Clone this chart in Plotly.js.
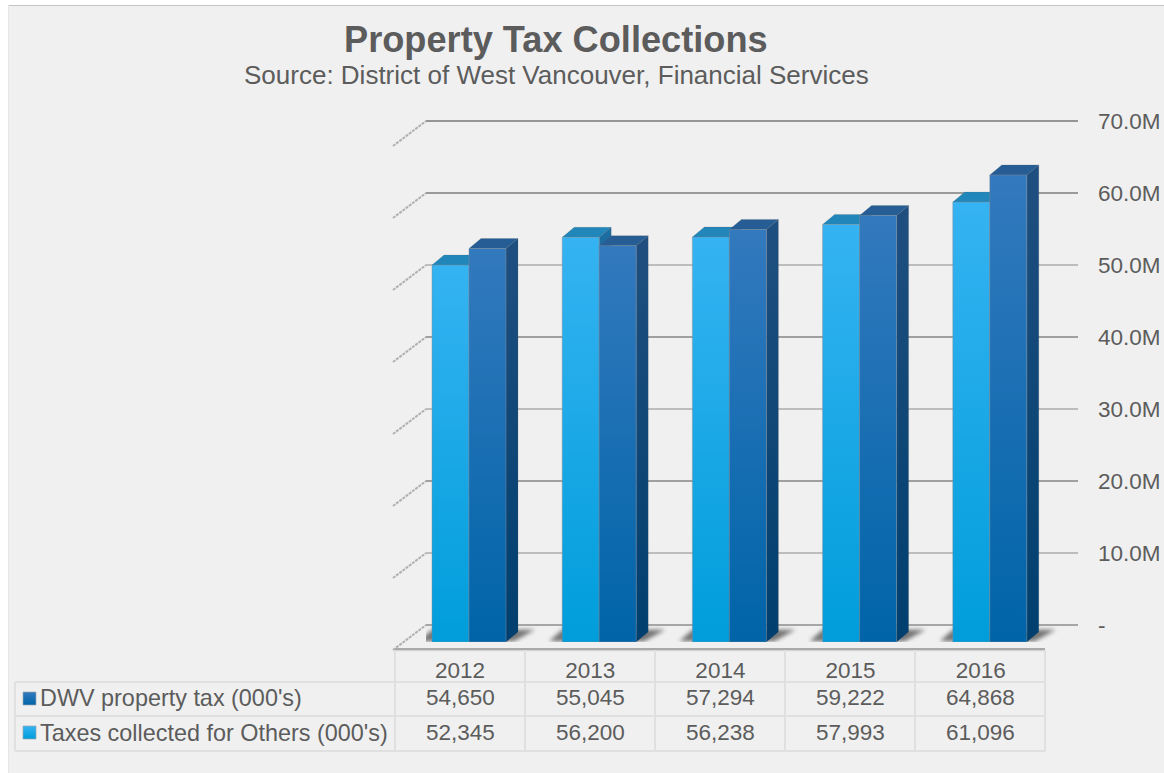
<!DOCTYPE html>
<html><head><meta charset="utf-8">
<script src="https://cdn.plot.ly/plotly-3.0.1.min.js"></script>
<style>html,body{margin:0;padding:0;background:#f0f0f0}#c{width:1164px;height:773px}</style>
</head><body><div id="c"></div>
<script>
const years=[2012,2013,2014,2015,2016];
const dwv=[54650,55045,57294,59222,64868];
const others=[52345,56200,56238,57993,61096];
const dwvName="DWV property tax (000's)";
const othersName="Taxes collected for Others (000's)";
const axisVals=[0,10,20,30,40,50,60,70];
const axisText=['-','10.0M','20.0M','30.0M','40.0M','50.0M','60.0M','70.0M'];
const gridShades=['#a6a6a6','#bdbdbd','#a0a0a0','#bdbdbd','#a0a0a0','#bdbdbd','#9a9a9a','#969696'];
const titleText='Property Tax Collections';
const subtitleText='Source: District of West Vancouver, Financial Services';

const W=1164,H=773,L=426,R=1078,T=104,B=642;
const pxPerYear=130.2,pxPerM=7.2;
const fmt=v=>v.toLocaleString('en-US');
const grey='#5c5c5c',FONT='"Liberation Sans",Arial,sans-serif';
const px=x=>(x-L)/(R-L), py=y=>(B-y)/(B-T);
const barW=37/pxPerYear, dx=12/pxPerYear, dy=10/pxPerM;
const labelShift=9/pxPerYear;

const shapes=[],grad={};
function add(s,g){ if(g) grad[shapes.length]=g; shapes.push(s); }
function poly(pts){return 'M'+pts.map(p=>p[0]+','+p[1]).join('L')+'Z';}
// page frame
add({type:'rect',xref:'paper',yref:'paper',x0:px(0),x1:px(W),y0:py(0),y1:py(5),fillcolor:'#ffffff',line:{width:0},layer:'below'});
add({type:'rect',xref:'paper',yref:'paper',x0:px(0),x1:px(8),y0:py(0),y1:py(H),fillcolor:'#ffffff',line:{width:0},layer:'below'});
add({type:'line',xref:'paper',yref:'paper',x0:px(8),x1:px(W),y0:py(5.5),y1:py(5.5),line:{color:'#c4c4c4',width:1},layer:'below'});
add({type:'line',xref:'paper',yref:'paper',x0:px(8.5),x1:px(8.5),y0:py(5),y1:py(H),line:{color:'#e6e6e6',width:1},layer:'below'});
// left wall
axisVals.forEach(v=>{
  const yb=625-v*pxPerM;
  add({type:'line',xref:'paper',yref:'paper',x0:px(393),x1:px(426),y0:py(yb+25),y1:py(yb),line:{color:'#b0b0b0',width:2,dash:'3px,1px'},layer:'below'});
});
// front floor edge
add({type:'line',xref:'paper',yref:'paper',x0:px(395),x1:px(1045),y0:py(650.5),y1:py(650.5),line:{color:'#d4d4d4',width:1.5},layer:'below'});
add({type:'line',xref:'paper',yref:'paper',x0:px(395),x1:px(1045),y0:py(649),y1:py(649),line:{color:'#a9a9a9',width:2},layer:'below'});
// table
[395,525,655,785,915,1045].forEach(x=>add({type:'line',xref:'paper',yref:'paper',x0:px(x),x1:px(x),y0:py(650),y1:py(751),line:{color:'#e0e0e0',width:2},layer:'below'}));
add({type:'line',xref:'paper',yref:'paper',x0:px(15),x1:px(15),y0:py(682),y1:py(751),line:{color:'#e0e0e0',width:2},layer:'below'});
[682,716,751].forEach(y=>add({type:'line',xref:'paper',yref:'paper',x0:px(15),x1:px(1045),y0:py(y),y1:py(y),line:{color:'#e0e0e0',width:2},layer:'below'}));
add({type:'rect',xref:'paper',yref:'paper',x0:px(23),x1:px(36),y0:py(692),y1:py(705),line:{color:'#9aa7b2',width:0.7},fillcolor:'#2a70b0',layer:'below'},'gDark');
add({type:'rect',xref:'paper',yref:'paper',x0:px(23),x1:px(36),y0:py(726),y1:py(739),line:{color:'#9aa7b2',width:0.7},fillcolor:'#1fa8e6',layer:'below'},'gLight');
// floor shadows
const shadowIdx=[];
years.forEach(yr=>{
  shadowIdx.push(shapes.length);
  add({type:'path',xref:'x',yref:'y',layer:'between',line:{width:0},fillcolor:'#666666',opacity:0.9,
    path:poly([[yr-barW-13/pxPerYear,0.1],[yr+barW+8/pxPerYear,0.1],[yr+barW+dx+17/pxPerYear,1.7],[yr-barW,1.7]])});
});
// 3D faces, from the data
function faces(vals,topCol,side,x0,x1){
  vals.forEach((v,i)=>{
    const m=v/1000,yr=years[i],a=yr+x0,b=yr+x1;
    add({type:'path',xref:'x',yref:'y',layer:'between',line:{color:'rgba(90,100,110,.35)',width:0.6},fillcolor:topCol,
      path:poly([[a,m],[b,m],[b+dx,m+dy],[a+dx,m+dy]])});
    add({type:'path',xref:'x',yref:'y',layer:'between',line:{color:'rgba(90,100,110,.35)',width:0.6},fillcolor:'#1c4a78',
      path:poly([[b,0],[b+dx,dy],[b+dx,m+dy],[b,m]])},side);
  });
}
faces(others,'#2187bb','gLightSide',-barW,0);
faces(dwv,'#265d94','gDarkSide',0,barW);

const annotations=[
 {xref:'paper',yref:'paper',x:px(556),y:py(39),text:'<b>'+titleText+'</b>',showarrow:false,font:{size:36.2,color:grey,family:FONT},xanchor:'center',yanchor:'middle'},
 {xref:'paper',yref:'paper',x:px(556),y:py(75),text:subtitleText,showarrow:false,font:{size:26,color:grey,family:FONT},xanchor:'center',yanchor:'middle'},
 {xref:'paper',yref:'paper',x:px(38),y:py(698),text:dwvName,showarrow:false,font:{size:23.4,color:grey,family:FONT},xanchor:'left',yanchor:'middle'},
 {xref:'paper',yref:'paper',x:px(38),y:py(732.5),text:othersName,showarrow:false,font:{size:23.4,color:grey,family:FONT},xanchor:'left',yanchor:'middle'}
];
years.forEach((yr,i)=>{
  annotations.push({xref:'x',yref:'paper',x:yr-labelShift,y:py(698),text:fmt(dwv[i]),showarrow:false,font:{size:22.5,color:grey,family:FONT},yanchor:'middle'});
  annotations.push({xref:'x',yref:'paper',x:yr-labelShift,y:py(732.5),text:fmt(others[i]),showarrow:false,font:{size:22.5,color:grey,family:FONT},yanchor:'middle'});
});

const edge={color:'rgba(130,140,150,.45)',width:1};
const traces=[
 {type:'bar',name:othersName,x:years,y:others.map(v=>v/1000),marker:{color:'#1fa8e6',line:edge},hoverinfo:'x+y'},
 {type:'bar',name:dwvName,x:years,y:dwv.map(v=>v/1000),marker:{color:'#2a70b0',line:edge},hoverinfo:'x+y'},
 {type:'scatter',mode:'lines',x:[years[0],years[years.length-1]],y:[axisVals[0],axisVals[axisVals.length-1]],yaxis:'y2',line:{width:0},opacity:0,hoverinfo:'skip',showlegend:false}
];
const layout={
 width:W,height:H,margin:{l:L,r:W-R,t:T,b:H-B,pad:0},
 paper_bgcolor:'#f0f0f0',plot_bgcolor:'rgba(0,0,0,0)',
 font:{family:FONT,color:grey,size:22.5},showlegend:false,
 barmode:'group',bargap:1-2*barW,bargroupgap:0,
 xaxis:{type:'linear',range:[years[0]-(469-L)/pxPerYear,years[0]+(R-469)/pxPerYear],
   tickmode:'array',tickvals:years.map(y=>y-labelShift),ticktext:years.map(String),
   ticks:'',ticklabelstandoff:12,showgrid:false,zeroline:false,showline:false,tickfont:{size:22.5,color:grey}},
 yaxis:{range:[0,(B-T)/pxPerM],visible:false,showgrid:false,zeroline:false},
 yaxis2:{overlaying:'y',side:'right',range:[-(B-625)/pxPerM,(625-T)/pxPerM],
   tickmode:'array',tickvals:axisVals,ticktext:axisText,ticks:'',ticklabelstandoff:19,
   showgrid:true,gridcolor:'#a0a0a0',gridwidth:2,zeroline:false,showline:false,tickfont:{size:22.5,color:grey}},
 shapes,annotations
};
Plotly.newPlot('c',traces,layout,{displayModeBar:false,staticPlot:true}).then(gd=>{
  const svg=gd.querySelector('.main-svg');
  const NS='http://www.w3.org/2000/svg';
  const defs=svg.querySelector('defs')||svg.insertBefore(document.createElementNS(NS,'defs'),svg.firstChild);
  function lg(id,a,b){
    const g=document.createElementNS(NS,'linearGradient');
    g.setAttribute('id',id);g.setAttribute('x1','0');g.setAttribute('y1','0');g.setAttribute('x2','0');g.setAttribute('y2','1');
    [[0,a],[1,b]].forEach(([o,c])=>{const s=document.createElementNS(NS,'stop');s.setAttribute('offset',o);s.setAttribute('stop-color',c);g.appendChild(s);});
    defs.appendChild(g);
  }
  lg('gLight','#35b3f2','#009ddb');
  lg('gDark','#3379be','#0064a8');
  lg('gLightSide','#1c6ea0','#0b5c90');
  lg('gDarkSide','#1f4f80','#003f6e');
  const f=document.createElementNS(NS,'filter');
  f.setAttribute('id','blurS');f.setAttribute('x','-20%');f.setAttribute('y','-100%');f.setAttribute('width','140%');f.setAttribute('height','300%');
  const fb=document.createElementNS(NS,'feGaussianBlur');fb.setAttribute('stdDeviation','2.2');f.appendChild(fb);defs.appendChild(f);
  const bars=gd.querySelectorAll('.barlayer .trace');
  bars[0].querySelectorAll('path').forEach(p=>p.style.fill='url(#gLight)');
  bars[1].querySelectorAll('path').forEach(p=>p.style.fill='url(#gDark)');
  Object.keys(grad).forEach(i=>{
    gd.querySelectorAll('path[data-index="'+i+'"]').forEach(p=>p.style.fill='url(#'+grad[i]+')');
  });
  shadowIdx.forEach(i=>gd.querySelectorAll('path[data-index="'+i+'"]').forEach(p=>{p.setAttribute('filter','url(#blurS)');}));
  const top=gd.getBoundingClientRect().top;
  gd.querySelectorAll('.gridlayer path').forEach(p=>{
    const r=p.getBoundingClientRect();
    const k=axisVals.indexOf(Math.round((625-(r.top+r.height/2-top))/pxPerM/10)*10);
    if(k>=0){p.style.setProperty('stroke',gridShades[k],'important');}
  });
});
</script></body></html>
